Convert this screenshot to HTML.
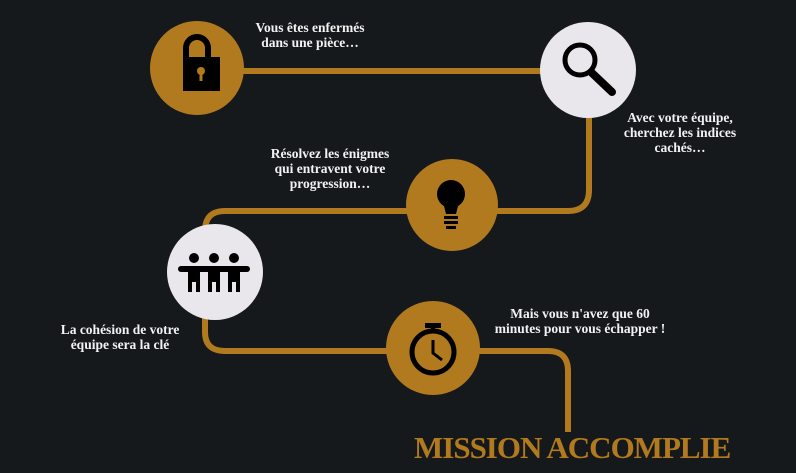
<!DOCTYPE html>
<html><head><style>
body{margin:0;width:796px;height:473px;background:#15191c;overflow:hidden;position:relative;font-family:"Liberation Serif",serif}
.t{position:absolute;color:#f2f2f2;font-weight:bold;font-size:13.5px;line-height:15px;text-align:center}
</style></head><body>
<svg width="796" height="473" style="position:absolute;left:0;top:0">
<g fill="none" stroke="#b27a1f" stroke-width="6">
<path d="M240 71 H560"/>
<path d="M589 110 V190 Q589 211 568 211 H225 Q205 211 205 231 V250"/>
<path d="M205 300 V332 Q205 351 225 351 H548 Q568 351 568 371 V432"/>
</g>
<circle cx="197" cy="68" r="47" fill="#b27a1f"/>
<circle cx="588" cy="70" r="48" fill="#e9e7eb"/>
<circle cx="452" cy="205" r="46" fill="#b27a1f"/>
<circle cx="215" cy="272" r="48" fill="#e9e7eb"/>
<circle cx="433" cy="348" r="47" fill="#b27a1f"/>
<path d="M186 58 V48 a11 11 0 0 1 22 0 V58" fill="none" stroke="#000" stroke-width="6"/>
<rect x="183" y="57" width="37" height="34" fill="#000"/>
<circle cx="201" cy="71" r="4" fill="#b27a1f"/><rect x="199.5" y="72" width="3" height="9" fill="#b27a1f"/>
<circle cx="580" cy="60" r="15" fill="none" stroke="#000" stroke-width="5"/>
<path d="M592 73 L612 92" stroke="#000" stroke-width="8" stroke-linecap="round"/>
<circle cx="451" cy="194" r="14" fill="#000"/>
<path d="M443 202 L446 214 H456 L459 202Z" fill="#000"/>
<rect x="444" y="216" width="14" height="3" fill="#000"/><rect x="444" y="221" width="14" height="3" fill="#000"/><rect x="446" y="226" width="10" height="3" fill="#000"/>
<g fill="#000">
<circle cx="194" cy="258" r="5"/><circle cx="214" cy="258" r="5"/><circle cx="234" cy="258" r="5"/>
<rect x="178" y="266" width="72" height="6" rx="3"/>
<rect x="188" y="266" width="12" height="16"/><rect x="208" y="266" width="12" height="16"/><rect x="228" y="266" width="12" height="16"/>
<rect x="188" y="280" width="4" height="12"/><rect x="196" y="280" width="4" height="12"/>
<rect x="208" y="280" width="4" height="12"/><rect x="216" y="280" width="4" height="12"/>
<rect x="228" y="280" width="4" height="12"/><rect x="236" y="280" width="4" height="12"/>
</g>
<circle cx="433" cy="352" r="21" fill="none" stroke="#000" stroke-width="5"/>
<rect x="425" y="323" width="16" height="5" fill="#000"/><rect x="431" y="326" width="4" height="6" fill="#000"/>
<path d="M433 340 V353 L442 360" fill="none" stroke="#000" stroke-width="3"/>
</svg>
<div class="t" style="left:240px;top:20px;width:140px">Vous êtes enfermés<br>dans une pièce…</div>
<div class="t" style="left:600px;top:110px;width:160px">Avec votre équipe,<br>cherchez les indices<br>cachés…</div>
<div class="t" style="left:250px;top:146px;width:160px">Résolvez les énigmes<br>qui entravent votre<br>progression…</div>
<div class="t" style="left:40px;top:322px;width:160px">La cohésion de votre<br>équipe sera la clé</div>
<div class="t" style="left:480px;top:306px;width:200px">Mais vous n'avez que 60<br>minutes pour vous échapper !</div>
<div style="position:absolute;left:414px;top:430px;color:#b27a1f;font-size:31px;font-weight:bold;letter-spacing:-1px;font-family:'Liberation Serif',serif;line-height:36px;white-space:nowrap">MISSION ACCOMPLIE</div>
</body></html>
